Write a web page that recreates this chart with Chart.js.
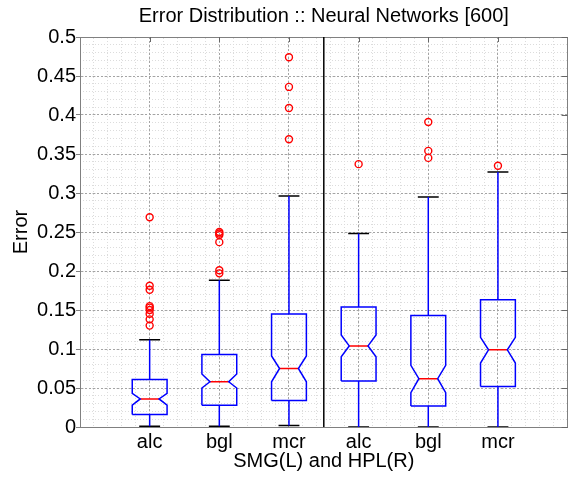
<!DOCTYPE html>
<html>
<head>
<meta charset="utf-8">
<script src="https://cdn.jsdelivr.net/npm/chart.js@4"></script>
<style>
  html, body { margin: 0; padding: 0; background: #fff; }
  #wrap { width: 573px; height: 478px; }
</style>
</head>
<body>
<div id="wrap"><canvas id="boxChart" width="573" height="478"></canvas></div>
<script>
// ===== DATA =====
const categories = ['alc', 'bgl', 'mcr', 'alc', 'bgl', 'mcr'];
const positions  = [1, 2, 3, 4, 5, 6];
const whiskerLo  = [0.001, 0.001, 0.002, 0.0, 0.0, 0.0];
const q1         = [0.016, 0.028, 0.034, 0.059, 0.027, 0.052];
const notchLo    = [0.028, 0.050, 0.058, 0.090, 0.044, 0.082];
const medians    = [0.036, 0.058, 0.075, 0.104, 0.062, 0.099];
const notchHi    = [0.043, 0.068, 0.091, 0.118, 0.079, 0.115];
const q3         = [0.061, 0.093, 0.145, 0.154, 0.143, 0.163];
const whiskerHi  = [0.112, 0.188, 0.296, 0.248, 0.295, 0.327];
const outliers   = [
  [0.269, 0.181, 0.176, 0.155, 0.153, 0.150, 0.145, 0.138, 0.130],
  [0.250, 0.248, 0.246, 0.237, 0.201, 0.197],
  [0.474, 0.436, 0.409, 0.369],
  [0.337],
  [0.391, 0.354, 0.345],
  [0.335]
];
const yTicks = [0, 0.05, 0.1, 0.15, 0.2, 0.25, 0.3, 0.35, 0.4, 0.45, 0.5];

// ===== SHAPES (built from the data) =====
const BOX_W = 0.25, NOTCH_W = 0.135, CAP_W = 0.15;
const GAP = { x: null, y: null };

const boxPts = [], medPts = [], whiskPts = [], capPts = [], outPts = [];
positions.forEach((p, i) => {
  boxPts.push(
    { x: p - BOX_W, y: q1[i] }, { x: p - BOX_W, y: notchLo[i] },
    { x: p - NOTCH_W, y: medians[i] }, { x: p - BOX_W, y: notchHi[i] },
    { x: p - BOX_W, y: q3[i] }, { x: p + BOX_W, y: q3[i] },
    { x: p + BOX_W, y: notchHi[i] }, { x: p + NOTCH_W, y: medians[i] },
    { x: p + BOX_W, y: notchLo[i] }, { x: p + BOX_W, y: q1[i] },
    { x: p - BOX_W, y: q1[i] }, GAP
  );
  medPts.push({ x: p - NOTCH_W, y: medians[i] }, { x: p + NOTCH_W, y: medians[i] }, GAP);
  whiskPts.push({ x: p, y: q3[i] }, { x: p, y: whiskerHi[i] }, GAP,
                { x: p, y: q1[i] }, { x: p, y: whiskerLo[i] }, GAP);
  capPts.push({ x: p - CAP_W, y: whiskerHi[i] }, { x: p + CAP_W, y: whiskerHi[i] }, GAP,
              { x: p - CAP_W, y: whiskerLo[i] }, { x: p + CAP_W, y: whiskerLo[i] }, GAP);
  outliers[i].forEach(v => outPts.push({ x: p, y: v }));
});
const sepPts = [{ x: 3.5, y: 0 }, { x: 3.5, y: 0.5 }];

const FONT = 'Liberation Sans, Arial, Helvetica, sans-serif';
const lineSet = (data, color) => ({
  type: 'line', data, borderColor: color, borderWidth: 1.5,
  pointRadius: 0, fill: false, tension: 0, spanGaps: false
});

// ===== INWARD TICKS (top / right) =====
const inwardTicks = {
  id: 'inwardTicks',
  afterDatasetsDraw(chart) {
    const { ctx, chartArea: a, scales: { x, y } } = chart;
    ctx.save();
    ctx.strokeStyle = '#666';
    ctx.lineWidth = 1;
    ctx.beginPath();
    positions.forEach(p => {
      const px = Math.round(x.getPixelForValue(p)) + 0.5;
      ctx.moveTo(px, a.top); ctx.lineTo(px, a.top + 5);
    });
    yTicks.forEach(v => {
      const py = Math.round(y.getPixelForValue(v)) + 0.5;
      ctx.moveTo(a.right, py); ctx.lineTo(a.right - 6, py);
    });
    ctx.stroke();
    ctx.restore();
  }
};

// ===== CHART =====
const ctx = document.getElementById('boxChart').getContext('2d');
new Chart(ctx, {
  type: 'scatter',
  data: {
    datasets: [
      lineSet(whiskPts, '#0000ff'),
      lineSet(capPts, '#000000'),
      lineSet(boxPts, '#0000ff'),
      lineSet(medPts, '#ff0000'),
      lineSet(sepPts, '#000000'),
      {
        type: 'scatter', data: outPts,
        pointStyle: 'circle', pointRadius: 3.5, pointBorderWidth: 1.4,
        borderColor: '#ff0000', backgroundColor: 'rgba(0,0,0,0)'
      }
    ]
  },
  options: {
    responsive: false,
    animation: false,
    layout: { padding: { top: 0, right: 1, bottom: 0, left: 0 } },
    plugins: {
      legend: { display: false },
      tooltip: { enabled: false },
      title: {
        display: true,
        fullSize: false,
        text: 'Error Distribution :: Neural Networks [600]',
        color: '#000',
        font: { family: FONT, size: 20, weight: 'normal' },
        padding: { top: 4.5, bottom: 8.5 }
      }
    },
    scales: {
      x: {
        type: 'linear', position: 'bottom', min: 0, max: 7,
        afterFit: s => { s.height = 51; },
        ticks: {
          stepSize: 1, autoSkip: false, maxRotation: 0, padding: 3,
          color: '#000', font: { family: FONT, size: 20 },
          callback: v => (v >= 1 && v <= 6) ? categories[v - 1] : ''
        },
        grid: { color: '#a4a4a4', drawTicks: false, z: -1 },
        border: { color: '#808080', width: 1, dash: [2, 2] },
        title: {
          display: true, text: 'SMG(L) and HPL(R)', color: '#000',
          font: { family: FONT, size: 20 }, padding: { top: 0, bottom: 5 }
        }
      },
      xMinor: {
        type: 'linear', position: 'top', min: 0, max: 7,
        afterFit: s => { s.height = 0; },
        ticks: { display: false, stepSize: 0.2 },
        grid: { color: '#dcdcdc', drawTicks: false, z: -2 },
        border: { color: '#808080', width: 1, dash: [1, 2] }
      },
      y: {
        type: 'linear', position: 'left', min: 0, max: 0.5,
        afterFit: s => { s.width = 80; },
        ticks: {
          stepSize: 0.05, padding: 0, color: '#000',
          font: { family: FONT, size: 20 },
          callback: v => String(+v.toFixed(2))
        },
        grid: { color: '#a4a4a4', tickLength: 4, tickColor: '#808080', z: -1 },
        border: { color: '#808080', width: 1, dash: [2, 2] },
        title: {
          display: true, text: 'Error', color: '#000',
          font: { family: FONT, size: 20 }, padding: { top: 9.5, bottom: 0 }
        }
      },
      yMinor: {
        type: 'linear', position: 'right', min: 0, max: 0.5,
        afterFit: s => { s.width = 0; },
        ticks: { display: false, stepSize: 0.01 },
        grid: { color: '#dcdcdc', drawTicks: false, z: -2 },
        border: { color: '#808080', width: 1, dash: [1, 2] }
      }
    }
  },
  plugins: [inwardTicks]
});
</script>
</body>
</html>
